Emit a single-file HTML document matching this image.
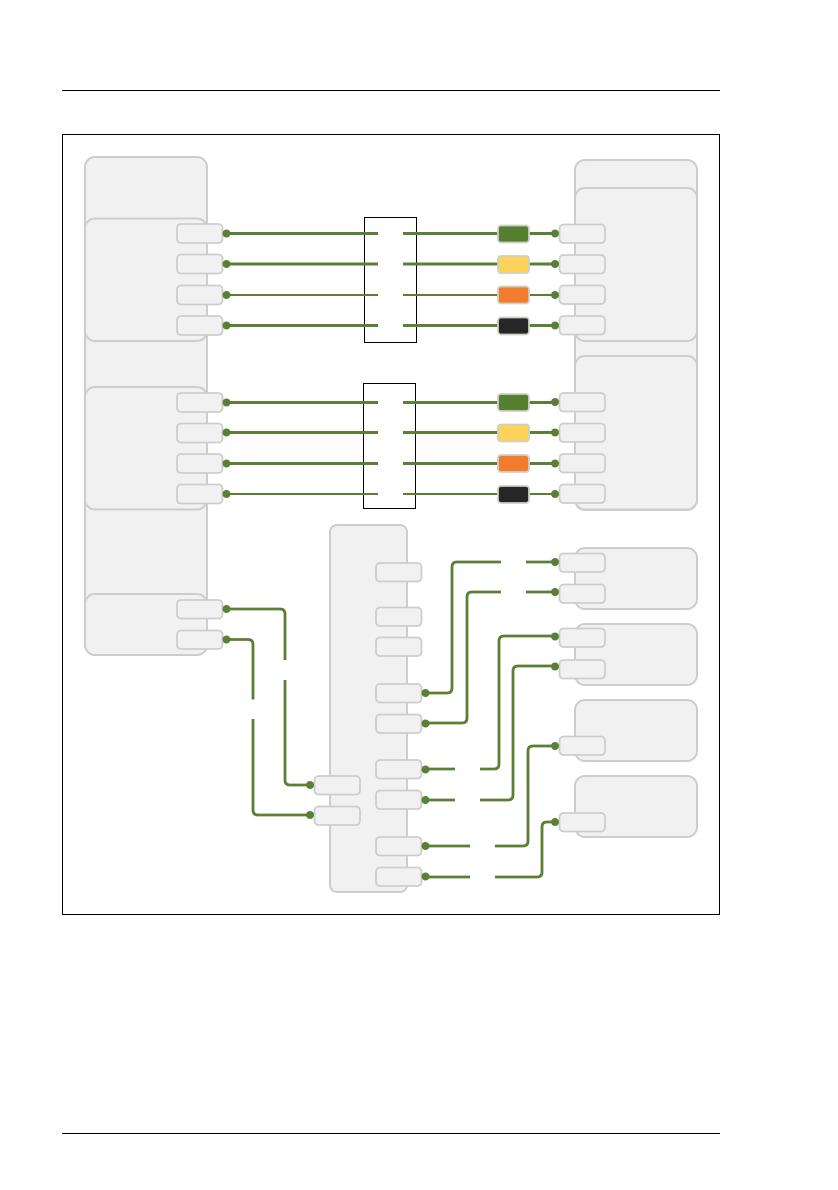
<!DOCTYPE html>
<html>
<head>
<meta charset="utf-8">
<style>
html,body{margin:0;padding:0;background:#fff}
svg{display:block}
.b{fill:#f1f1f1;stroke:#cdcdcd;stroke-width:2}
.p{fill:#f1f1f1;stroke:#cdcdcd;stroke-width:1.8}
.t{stroke:#cfcfc8;stroke-width:1.8}
.w3{fill:none;stroke:#5a7f35;stroke-width:3}
.w2{fill:none;stroke:#5a7f35;stroke-width:2}
.c{fill:none;stroke:#5a7f35;stroke-width:2.8;stroke-linejoin:round}
.d{fill:#5a7f35}
.f{fill:none;stroke:#000;stroke-width:1}
</style>
</head>
<body>
<svg width="838" height="1190" viewBox="0 0 838 1190" xmlns="http://www.w3.org/2000/svg">
<rect x="0" y="0" width="838" height="1190" fill="#fff"/>
<rect x="62" y="90" width="658" height="1" fill="#000"/>
<rect x="62" y="1133" width="658" height="1" fill="#000"/>
<rect x="62.5" y="134.5" width="657" height="780" class="f"/>

<!-- left group -->
<rect x="85" y="157" width="122" height="498" rx="10" class="b"/>
<rect x="85" y="218.5" width="122" height="122.5" rx="10" class="b"/>
<rect x="85" y="387" width="122" height="122.5" rx="10" class="b"/>
<rect x="85" y="594" width="122" height="61" rx="10" class="b"/>

<!-- right group -->
<rect x="575" y="160" width="122" height="350" rx="10" class="b"/>
<rect x="575" y="188" width="122" height="153" rx="10" class="b"/>
<rect x="575" y="356" width="122" height="153.500" rx="10" class="b"/>
<rect x="575" y="548" width="122" height="61" rx="10" class="b"/>
<rect x="575" y="624" width="122" height="61" rx="10" class="b"/>
<rect x="575" y="700" width="122" height="61" rx="10" class="b"/>
<rect x="575" y="776" width="122" height="61" rx="10" class="b"/>

<!-- centre -->
<rect x="330" y="525" width="77" height="367" rx="7" class="b"/>

<!-- bridge frames -->
<rect x="364.500" y="217.500" width="52" height="125" class="f"/>
<rect x="363.500" y="383.500" width="52" height="125" class="f"/>

<!-- horizontal straight wires -->
<g class="w3">
<path d="M227 233.500H378M403 233.500H498M529 233.500H555"/>
<path d="M227 264H378M403 264H498M529 264H555"/>
<path d="M227 325.500H378M403 325.500H498M529 325.500H555"/>
<path d="M227 402.500H378M403 402.500H498M529 402.500H555"/>
<path d="M227 432.500H378M403 432.500H498M529 432.500H555"/>
<path d="M227 463.500H378M403 463.500H498M529 463.500H555"/>
</g>
<g class="w2">
<path d="M227 295H378M403 295H498M529 295H555"/>
<path d="M227 494H378M403 494H498M529 494H555"/>
</g>

<!-- routed wires -->
<g class="c">
<path d="M227 609H280Q285 609 285 614V660"/>
<path d="M285 680V780Q285 785 290 785H310"/>
<path d="M227 639.500H248Q253 639.500 253 644.500V699.500"/>
<path d="M253 719V810Q253 815 258 815H310"/>
<path d="M426 693H447Q452 693 452 688V567Q452 562 457 562H501"/>
<path d="M526 562H555"/>
<path d="M426 723H462Q467 723 467 718V597Q467 592 472 592H501"/>
<path d="M526 592H555"/>
<path d="M426 769H455"/>
<path d="M480 769H494Q499 769 499 764V641Q499 636 504 636H555"/>
<path d="M426 800H455"/>
<path d="M480 800H508Q513 800 513 795V671Q513 666 518 666H555"/>
<path d="M426 846H470"/>
<path d="M495 846H523Q528 846 528 841V751Q528 746 533 746H555"/>
<path d="M426 877H470"/>
<path d="M495 877H537Q542 877 542 872V827Q542 822 547 822H555"/>
</g>

<!-- colour tags -->
<rect x="498" y="225.500" width="31" height="17" rx="3" fill="#54802f" class="t"/>
<rect x="498" y="256" width="31" height="17" rx="3" fill="#fdd35c" class="t"/>
<rect x="498" y="286.500" width="31" height="17" rx="3" fill="#f27c2e" class="t"/>
<rect x="498" y="317.500" width="31" height="17" rx="3" fill="#262626" class="t"/>
<rect x="498" y="394" width="31" height="17" rx="3" fill="#54802f" class="t"/>
<rect x="498" y="424.500" width="31" height="17" rx="3" fill="#fdd35c" class="t"/>
<rect x="498" y="455" width="31" height="17" rx="3" fill="#f27c2e" class="t"/>
<rect x="498" y="486" width="31" height="17" rx="3" fill="#262626" class="t"/>

<!-- left ports -->
<g class="p">
<rect x="177" y="224" width="45.500" height="19" rx="4"/>
<rect x="177" y="254.500" width="45.500" height="19" rx="4"/>
<rect x="177" y="285.500" width="45.500" height="19" rx="4"/>
<rect x="177" y="316" width="45.500" height="19" rx="4"/>
<rect x="177" y="393" width="45.500" height="19" rx="4"/>
<rect x="177" y="423.500" width="45.500" height="19" rx="4"/>
<rect x="177" y="454" width="45.500" height="19" rx="4"/>
<rect x="177" y="484.500" width="45.500" height="19" rx="4"/>
<rect x="177" y="600" width="45.500" height="18.500" rx="4"/>
<rect x="177" y="630.500" width="45.500" height="18.500" rx="4"/>
</g>

<!-- right ports -->
<g class="p">
<rect x="559.500" y="224.500" width="45.500" height="18.500" rx="4"/>
<rect x="559.500" y="255" width="45.500" height="18.500" rx="4"/>
<rect x="559.500" y="285.500" width="45.500" height="18.500" rx="4"/>
<rect x="559.500" y="316" width="45.500" height="18.500" rx="4"/>
<rect x="559.500" y="393" width="45.500" height="18.500" rx="4"/>
<rect x="559.500" y="423.500" width="45.500" height="18.500" rx="4"/>
<rect x="559.500" y="454" width="45.500" height="18.500" rx="4"/>
<rect x="559.500" y="484.500" width="45.500" height="18.500" rx="4"/>
<rect x="559.500" y="553.500" width="45.500" height="18.500" rx="4"/>
<rect x="559.500" y="584.500" width="45.500" height="18.500" rx="4"/>
<rect x="559.500" y="628.500" width="45.500" height="18.500" rx="4"/>
<rect x="559.500" y="660" width="45.500" height="18.500" rx="4"/>
<rect x="559.500" y="736.500" width="45.500" height="18.500" rx="4"/>
<rect x="559.500" y="813" width="45.500" height="18.500" rx="4"/>
</g>

<!-- centre ports -->
<g class="p">
<rect x="376" y="563" width="45.500" height="18.500" rx="4"/>
<rect x="376" y="607.500" width="45.500" height="18.500" rx="4"/>
<rect x="376" y="637.500" width="45.500" height="18.500" rx="4"/>
<rect x="376" y="684" width="45.500" height="18.500" rx="4"/>
<rect x="376" y="714.500" width="45.500" height="18.500" rx="4"/>
<rect x="376" y="760" width="45.500" height="18.500" rx="4"/>
<rect x="376" y="790.500" width="45.500" height="18.500" rx="4"/>
<rect x="376" y="837" width="45.500" height="18.500" rx="4"/>
<rect x="376" y="867.500" width="45.500" height="18.500" rx="4"/>
<rect x="314.500" y="776" width="45.500" height="18.500" rx="4"/>
<rect x="314.500" y="806.500" width="45.500" height="18.500" rx="4"/>
</g>

<!-- dots -->
<g class="d">
<circle cx="226.500" cy="233.500" r="4"/><circle cx="226.500" cy="264" r="4"/><circle cx="226.500" cy="295" r="4"/><circle cx="226.500" cy="325.500" r="4"/>
<circle cx="226.500" cy="402.500" r="4"/><circle cx="226.500" cy="432.500" r="4"/><circle cx="226.500" cy="463.500" r="4"/><circle cx="226.500" cy="494" r="4"/>
<circle cx="226.500" cy="609" r="4"/><circle cx="226.500" cy="639.500" r="4"/>
<circle cx="555" cy="233.500" r="4"/><circle cx="555" cy="264" r="4"/><circle cx="555" cy="295" r="4"/><circle cx="555" cy="325.500" r="4"/>
<circle cx="555" cy="402" r="4"/><circle cx="555" cy="432.500" r="4"/><circle cx="555" cy="463.500" r="4"/><circle cx="555" cy="494" r="4"/>
<circle cx="555" cy="562" r="4"/><circle cx="555" cy="592" r="4"/><circle cx="555" cy="636.500" r="4"/><circle cx="555" cy="666.500" r="4"/><circle cx="555" cy="746" r="4"/><circle cx="555" cy="822" r="4"/>
<circle cx="425.500" cy="693" r="4"/><circle cx="425.500" cy="723.500" r="4"/><circle cx="425.500" cy="769.500" r="4"/><circle cx="425.500" cy="800" r="4"/><circle cx="425.500" cy="846" r="4"/><circle cx="425.500" cy="876.500" r="4"/>
<circle cx="310" cy="785" r="4"/><circle cx="310" cy="815" r="4"/>
</g>
</svg>
</body>
</html>
